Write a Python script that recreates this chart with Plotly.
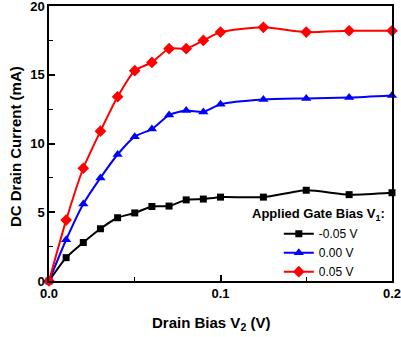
import plotly.graph_objects as go

x_vals = [0.0, 0.01, 0.02, 0.03, 0.04, 0.05, 0.06, 0.07, 0.08, 0.09, 0.1, 0.125, 0.15, 0.175, 0.2]
i_neg = [0.0, 1.7, 2.8, 3.8, 4.6, 4.95, 5.42, 5.45, 5.9, 5.96, 6.1, 6.1, 6.6, 6.28, 6.42]
i_zero = [0.0, 3.0, 5.6, 7.5, 9.2, 10.5, 11.05, 12.07, 12.4, 12.3, 12.85, 13.2, 13.28, 13.35, 13.5]
i_pos = [0.0, 4.43, 8.2, 10.9, 13.4, 15.3, 15.9, 16.9, 16.9, 17.5, 18.1, 18.45, 18.1, 18.2, 18.2]
labels = ["-0.05 V", "0.00 V", "0.05 V"]
colors = ["#000000", "#0000ff", "#ff0000"]
symbols = ["square", "triangle-up", "diamond"]
msizes = [7, 9, 9]
x_ticks = [0, 0.1, 0.2]
x_ticktext = ["0.0", "0.1", "0.2"]
y_ticks = [0, 5, 10, 15, 20]
y_ticktext = ["0", "5", "10", "15", "20"]

FONT = "Arial, Liberation Sans, sans-serif"

fig = go.Figure()
for ys, lab, col, sym, ms in zip([i_neg, i_zero, i_pos], labels, colors, symbols, msizes):
    fig.add_trace(go.Scatter(
        x=x_vals, y=ys, name=lab, mode="lines+markers",
        line=dict(color=col, width=2, shape="spline", smoothing=0.6),
        marker=dict(symbol=sym, size=ms, color=col),
        cliponaxis=False,
    ))

axis_common = dict(
    ticks="inside", ticklen=6, tickwidth=1.5, tickcolor="black",
    showline=True, linecolor="black", linewidth=1.5, mirror=True,
    showgrid=False, zeroline=False, automargin=False,
    tickfont=dict(size=13, family=FONT),
)

fig.update_layout(
    width=401, height=337,
    margin=dict(l=49, r=9, t=6, b=56),
    plot_bgcolor="white", paper_bgcolor="white",
    font=dict(family=FONT, color="black"),
    showlegend=True,
    legend=dict(
        x=0.67, xanchor="left", y=0.225, yanchor="top",
        bgcolor="rgba(0,0,0,0)", font=dict(size=12, family=FONT),
        tracegroupgap=0, itemwidth=30,
    ),
    xaxis=dict(
        range=[0, 0.2], tickvals=x_ticks, ticktext=["<b>%s</b>" % t for t in x_ticktext],
        minor=dict(dtick=0.05, ticks="inside", ticklen=4, tickwidth=1.2, tickcolor="black"),
        ticklabeloverflow="allow",
        **axis_common,
    ),
    yaxis=dict(
        range=[0, 20], tickvals=y_ticks, ticktext=["<b>%s</b>" % t for t in y_ticktext],
        minor=dict(dtick=2.5, ticks="inside", ticklen=4, tickwidth=1.2, tickcolor="black"),
        ticklabeloverflow="allow",
        **axis_common,
    ),
    annotations=[
        dict(text="<b>Applied Gate Bias V<sub>1</sub>:</b>", xref="paper", yref="paper",
             x=0.985, y=0.2436, xanchor="right", yanchor="middle", showarrow=False,
             font=dict(size=13, family=FONT)),
        dict(text="<b>Drain Bias V<sub>2</sub> (V)</b>", xref="paper", yref="paper",
             x=0.472, y=-0.153, xanchor="center", yanchor="middle", showarrow=False,
             font=dict(size=15, family=FONT)),
        dict(text="<b>DC Drain Current (mA)</b>", xref="paper", yref="paper",
             x=-0.099, y=0.487, xanchor="center", yanchor="middle", showarrow=False,
             textangle=-90, font=dict(size=15, family=FONT)),
    ],
)

fig.write_html("out.html", config={"displayModeBar": False},
               post_script="document.body.style.margin='0';document.body.style.overflow='hidden';")
